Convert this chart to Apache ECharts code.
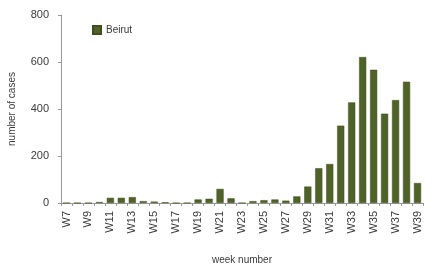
<!DOCTYPE html>
<html>
<head>
<meta charset="utf-8">
<script src="https://cdn.jsdelivr.net/npm/echarts@6/dist/echarts.min.js"></script>
<style>
  html, body { margin: 0; padding: 0; background: #fff; }
  #chart { width: 438px; height: 265px; }
</style>
</head>
<body>
<div id="chart"></div>
<script>
const weeks = [
  "W7", "W8", "W9", "W10", "W11", "W12", "W13", "W14", "W15", "W16", "W17",
  "W18", "W19", "W20", "W21", "W22", "W23", "W24", "W25", "W26", "W27", "W28",
  "W29", "W30", "W31", "W32", "W33", "W34", "W35", "W36", "W37", "W38", "W39",
];
const beirutCases = [
  0, 0, 0, 4, 22, 22, 25, 8, 6, 3, 0,
  0, 15, 18, 60, 20, 0, 8, 12, 15, 10, 28,
  70, 148, 166, 329, 428, 621, 567, 380, 438, 516, 85,
];
const yTicks = [0, 200, 400, 600, 800];

const FONT = "Liberation Sans";
const TEXT = "#3a3a3a";
const AXIS = "#999999";

const chart = echarts.init(document.getElementById("chart"));
chart.setOption({
  animation: false,
  textStyle: { fontFamily: FONT },
  grid: { left: 61, right: 15, top: 15, bottom: 62, outerBoundsMode: "none", containLabel: false },
  legend: {
    left: 87,
    top: 20,
    itemWidth: 8,
    itemHeight: 8,
    itemGap: 4,
    textStyle: { fontSize: 10, color: TEXT, fontFamily: FONT },
    data: [{ name: "Beirut", icon: "rect" }],
  },
  xAxis: {
    type: "category",
    data: weeks,
    name: "week number",
    nameLocation: "middle",
    nameGap: 52,
    nameTextStyle: { fontSize: 10, color: TEXT },
    axisLine: { lineStyle: { color: AXIS } },
    axisTick: { show: true, interval: 0, length: 3, lineStyle: { color: AXIS } },
    axisLabel: {
      interval: 1,
      rotate: 90,
      fontSize: 11,
      color: TEXT,
      margin: 8,
    },
  },
  yAxis: {
    type: "value",
    min: yTicks[0],
    max: yTicks[yTicks.length - 1],
    interval: 200,
    name: "number of cases",
    nameLocation: "middle",
    nameGap: 44,
    nameTextStyle: { fontSize: 10, color: TEXT },
    axisLine: { show: true, lineStyle: { color: AXIS } },
    axisTick: { show: true, length: 3, lineStyle: { color: AXIS } },
    splitLine: { show: false },
    axisLabel: { fontSize: 11, color: TEXT, margin: 12 },
  },
  series: [
    {
      name: "Beirut",
      type: "bar",
      data: beirutCases,
      barCategoryGap: "35%",
      itemStyle: { color: "#4F6228", borderColor: "#3E4F1E", borderWidth: 0.5 },
    },
  ],
});
</script>
</body>
</html>
